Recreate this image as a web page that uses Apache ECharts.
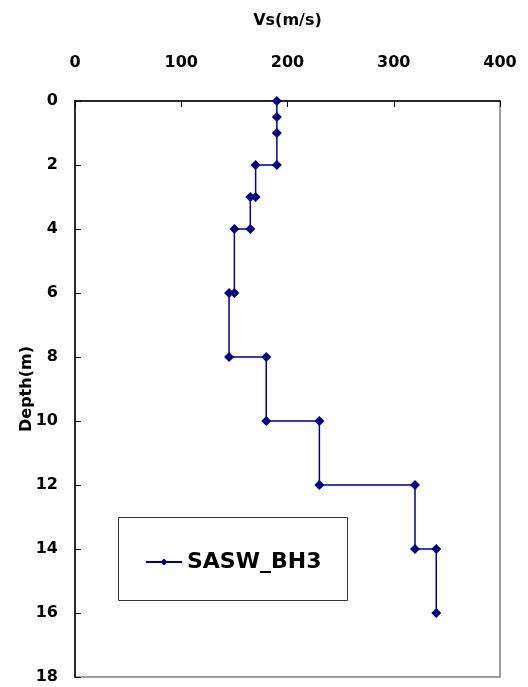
<!DOCTYPE html>
<html>
<head>
<meta charset="utf-8">
<script src="https://cdn.jsdelivr.net/npm/echarts@6/dist/echarts.min.js"></script>
<style>
  html, body { margin: 0; padding: 0; background: #fff; }
  #chart { width: 528px; height: 687px; }
</style>
</head>
<body>
<div id="chart"></div>
<script>
const seriesName = 'SASW_BH3';
const vs = [190, 190, 190, 190, 170, 170, 165, 165, 150, 150, 145, 145, 180, 180, 230, 230, 320, 320, 340, 340];
const depth = [0, 0.5, 1, 2, 2, 3, 3, 4, 4, 6, 6, 8, 8, 10, 10, 12, 12, 14, 14, 16];

const chart = echarts.init(document.getElementById('chart'));
const font = 'DejaVu Sans';

const points = vs.map((v, i) => [v, depth[i]]);

const option = {
  backgroundColor: '#fff',
  animation: false,
  grid: {
    left: 75, right: 28, top: 101, bottom: 10,
    show: true,
    borderColor: '#808080',
    borderWidth: 1.5
  },
  xAxis: {
    type: 'value',
    position: 'top',
    min: 0, max: 400, interval: 100,
    name: 'Vs(m/s)',
    nameLocation: 'middle',
    nameGap: 72,
    nameTextStyle: { fontFamily: font, fontWeight: 'bold', fontSize: 16, color: '#000' },
    axisLine: { show: true, lineStyle: { color: '#000', width: 1.5 } },
    axisTick: { show: true, inside: true, length: 6, lineStyle: { color: '#000' } },
    axisLabel: { fontFamily: font, fontWeight: 'bold', fontSize: 16, color: '#000', margin: 30 },
    splitLine: { show: false }
  },
  yAxis: {
    type: 'value',
    inverse: true,
    min: 0, max: 18, interval: 2,
    name: 'Depth(m)',
    nameLocation: 'middle',
    nameGap: 40,
    nameMoveOverlap: false,
    nameTextStyle: { fontFamily: font, fontWeight: 'bold', fontSize: 16, color: '#000' },
    axisLine: { show: true, lineStyle: { color: '#000', width: 1.5 } },
    axisTick: { show: true, inside: true, length: 6, lineStyle: { color: '#000' } },
    axisLabel: { fontFamily: font, fontWeight: 'bold', fontSize: 16, color: '#000', margin: 17 },
    splitLine: { show: false }
  },
  legend: {
    left: 140, top: 546,
    itemWidth: 36, itemHeight: 9,
    textStyle: { fontFamily: font, fontWeight: 'bold', fontSize: 22, color: '#000' },
    data: [seriesName]
  },
  graphic: [{
    type: 'rect',
    shape: { x: 118.5, y: 517.5, width: 229, height: 83 },
    style: { fill: 'none', stroke: '#333', lineWidth: 1 },
    z: 100
  }],
  series: [{
    name: seriesName,
    type: 'line',
    data: points,
    symbol: 'diamond',
    symbolSize: 10,
    color: '#000080',
    lineStyle: { color: '#000080', width: 1.5 },
    itemStyle: { color: '#000080' }
  }]
};

chart.setOption(option);
</script>
</body>
</html>
